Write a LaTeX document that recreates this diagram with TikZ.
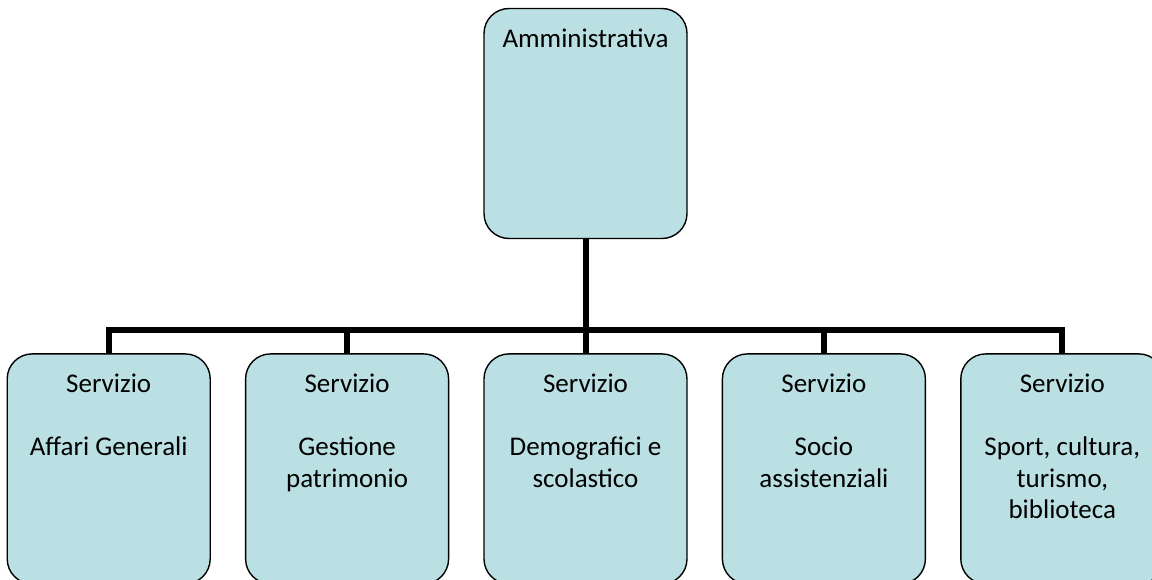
\documentclass[tikz,border=0pt]{standalone}
\usepackage{fontspec}
\setmainfont{Carlito}
\usetikzlibrary{positioning}
\definecolor{boxfill}{HTML}{BBE0E3}
\newcommand{\boxtxt}[1]{\parbox[t][196pt][t]{190pt}{\centering\strut #1}}

\begin{document}
\begin{tikzpicture}[node distance = {34pt}, main/.style = {draw, line width=1.4pt, fill=boxfill, rounded corners=25pt, inner xsep=6.5pt, inner ysep=17pt, font=\fontsize{27}{31.5}\selectfont}, conn/.style = {line width=6pt}]
	\useasboundingbox (0,0) rectangle (1152pt,-580pt);
	\node[main] (adm) at (585.5pt,-123.5pt) {\boxtxt{Amministrativa}};
	\node[main] (s3) [below=114pt of adm] {\boxtxt{Servizio\\[31.5pt]Demografici e\\scolastico}};
	\node[main] (s2) [left=of s3] {\boxtxt{Servizio\\[31.5pt]Gestione\\patrimonio}};
	\node[main] (s1) [left=of s2] {\boxtxt{Servizio\\[31.5pt]Affari Generali}};
	\node[main] (s4) [right=of s3] {\boxtxt{Servizio\\[31.5pt]Socio\\assistenziali}};
	\node[main] (s5) [right=of s4] {\boxtxt{Servizio\\[31.5pt]Sport, cultura,\\turismo,\\biblioteca}};
	\coordinate[below=91pt of adm.south] (bar);
	\draw[conn] (adm.south) -- (bar);
	\draw[conn] (s1.north) |- (bar) -| (s5.north);
	\foreach \n in {2,3,4}
		\draw[conn] (s\n.north) -- (s\n.north |- bar);
\end{tikzpicture}
\end{document}
